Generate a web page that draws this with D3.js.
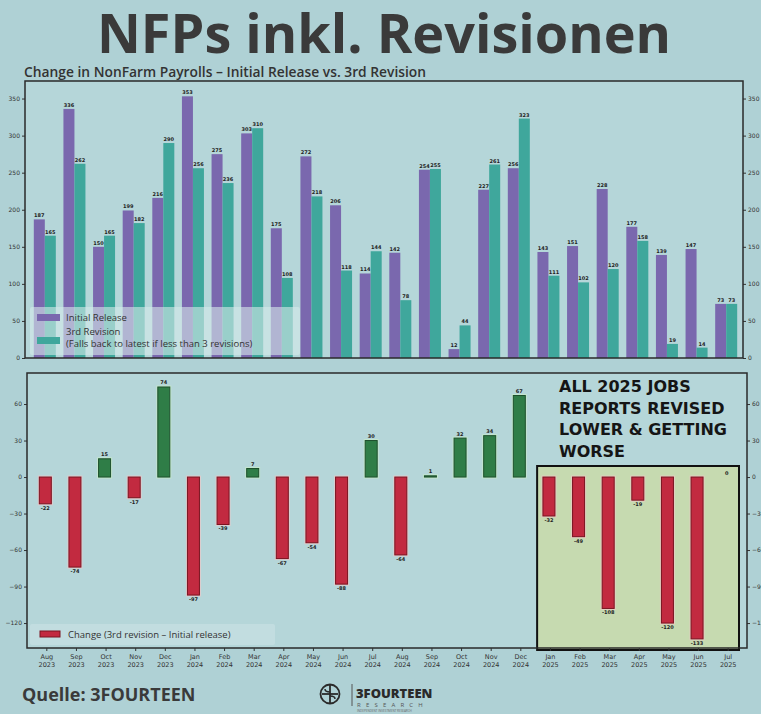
<!DOCTYPE html>
<html>
<head>
<meta charset="utf-8">
<script src="https://cdn.jsdelivr.net/npm/d3@7/dist/d3.min.js"></script>
<style>
html,body{margin:0;padding:0;background:#afd1d5;}
svg{display:block;}
</style>
</head>
<body>
<svg id="chart" width="761" height="714"></svg>
<script>
const months = ["Aug 2023","Sep 2023","Oct 2023","Nov 2023","Dec 2023","Jan 2024","Feb 2024","Mar 2024","Apr 2024","May 2024","Jun 2024","Jul 2024","Aug 2024","Sep 2024","Oct 2024","Nov 2024","Dec 2024","Jan 2025","Feb 2025","Mar 2025","Apr 2025","May 2025","Jun 2025","Jul 2025"];
const initialRelease = [187,336,150,199,216,353,275,303,175,272,206,114,142,254,12,227,256,143,151,228,177,139,147,73];
const thirdRevision  = [165,262,165,182,290,256,236,310,108,218,118,144,78,255,44,261,323,111,102,120,158,19,14,73];
const changeValues   = [-22,-74,15,-17,74,-97,-39,7,-67,-54,-88,30,-64,1,32,34,67,-32,-49,-108,-19,-120,-133,0];
const topTicks = [0,50,100,150,200,250,300,350];
const bottomTicks = [-120,-90,-60,-30,0,30,60];
const annotationLines = ["ALL 2025 JOBS","REPORTS REVISED","LOWER & GETTING","WORSE"];

const svg = d3.select("#chart");
const C = {bg:"#afd1d5", plot:"#b5d6d9", purple:"#7a68ae", teal:"#3fa79c", red:"#c22a40", redEdge:"#7a1420", green:"#2f7d47", greenEdge:"#1d4f2c", text:"#2b2b2b", highlight:"#c6dab0"};

svg.append("rect").attr("width",761).attr("height",714).attr("fill",C.bg);

// Title
svg.append("text").attr("x",384).attr("y",53).attr("text-anchor","middle")
  .attr("font-family","Open Sans, sans-serif").attr("font-weight",700).attr("font-size",54)
  .attr("fill","#3a3a3a").text("NFPs inkl. Revisionen");

svg.append("text").attr("x",24).attr("y",77)
  .attr("font-family","Open Sans, sans-serif").attr("font-weight",600).attr("font-size",13.8)
  .attr("fill","#333").text("Change in NonFarm Payrolls \u2013 Initial Release vs. 3rd Revision");

const x = d3.scaleBand().domain(months).range([30,741]).paddingInner(0);

// ---------- TOP PANEL ----------
const topL = 25, topR = 743, topT = 81, topB = 358;
const yTop = d3.scaleLinear().domain([0,375]).range([topB, topB-375*0.7413]);
svg.append("rect").attr("x",topL).attr("y",topT).attr("width",topR-topL).attr("height",topB-topT).attr("fill",C.plot);

const bw = 11;
const gTop = svg.append("g");
gTop.selectAll("rect.ini").data(months).join("rect").attr("class","ini")
  .attr("x",(d)=>x(d)+x.bandwidth()/2-bw).attr("width",bw)
  .attr("y",(d,i)=>yTop(initialRelease[i])).attr("height",(d,i)=>yTop(0)-yTop(initialRelease[i]))
  .attr("fill",C.purple);
gTop.selectAll("rect.rev").data(months).join("rect").attr("class","rev")
  .attr("x",(d)=>x(d)+x.bandwidth()/2).attr("width",bw)
  .attr("y",(d,i)=>yTop(thirdRevision[i])).attr("height",(d,i)=>yTop(0)-yTop(thirdRevision[i]))
  .attr("fill",C.teal);
gTop.selectAll("text.ini").data(months).join("text").attr("class","ini")
  .attr("x",(d)=>x(d)+x.bandwidth()/2-bw/2).attr("y",(d,i)=>yTop(initialRelease[i])-2)
  .attr("text-anchor","middle").attr("font-family","DejaVu Sans, sans-serif").attr("font-size",5).attr("font-weight",700)
  .attr("fill","#222").text((d,i)=>initialRelease[i]);
gTop.selectAll("text.rev").data(months).join("text").attr("class","rev")
  .attr("x",(d)=>x(d)+x.bandwidth()/2+bw/2).attr("y",(d,i)=>yTop(thirdRevision[i])-2)
  .attr("text-anchor","middle").attr("font-family","DejaVu Sans, sans-serif").attr("font-size",5).attr("font-weight",700)
  .attr("fill","#222").text((d,i)=>thirdRevision[i]);

// legend top
const lg = svg.append("g");
lg.append("rect").attr("x",30).attr("y",307).attr("width",270).attr("height",48).attr("fill","#d6e9ea").attr("opacity",0.6).attr("rx",2);
lg.append("rect").attr("x",37).attr("y",314).attr("width",23).attr("height",7).attr("fill",C.purple);
lg.append("text").attr("x",66).attr("y",321).attr("font-family","Open Sans, sans-serif").attr("font-size",9.5).attr("fill","#333").text("Initial Release");
lg.append("rect").attr("x",37).attr("y",337).attr("width",23).attr("height",7).attr("fill",C.teal);
lg.append("text").attr("x",66).attr("y",335).attr("font-family","Open Sans, sans-serif").attr("font-size",9.5).attr("fill","#333").text("3rd Revision");
lg.append("text").attr("x",66).attr("y",347).attr("font-family","Open Sans, sans-serif").attr("font-size",9.5).attr("fill","#333").text("(Falls back to latest if less than 3 revisions)");

// axes top
const axTopL = svg.append("g").attr("transform",`translate(${topL},0)`).call(d3.axisLeft(yTop).tickValues(topTicks).tickSize(3).tickPadding(2));
const axTopR = svg.append("g").attr("transform",`translate(${topR},0)`).call(d3.axisRight(yTop).tickValues(topTicks).tickSize(3).tickPadding(2));
[axTopL,axTopR].forEach(a=>{a.select(".domain").remove();a.selectAll("text").attr("font-size",6).attr("font-family","DejaVu Sans, sans-serif").attr("fill","#333");a.selectAll("line").attr("stroke","#333");});
svg.append("rect").attr("x",topL).attr("y",topT).attr("width",topR-topL).attr("height",topB-topT).attr("fill","none").attr("stroke","#2a2a2a").attr("stroke-width",1.5);

// ---------- BOTTOM PANEL ----------
const botL = 27, botR = 747, botT = 373, botB = 648;
const yBot = d3.scaleLinear().domain([-140.5,85.5]).range([botB,botT]);
svg.append("rect").attr("x",botL).attr("y",botT).attr("width",botR-botL).attr("height",botB-botT).attr("fill",C.plot);

// highlight box for 2025
const hx0 = x("Jan 2025")+3.5, hx1 = x("Jul 2025")+x.bandwidth()-2;
svg.append("rect").attr("x",hx0).attr("y",466).attr("width",hx1-hx0).attr("height",650-466)
  .attr("fill",C.highlight).attr("stroke","#111").attr("stroke-width",2);

const cbw = 12;
const gBot = svg.append("g");
gBot.selectAll("rect.glow").data(months).join("rect").attr("class","glow")
  .attr("x",(d)=>x(d)+x.bandwidth()/2-cbw/2+0.5-1.5).attr("width",cbw+3)
  .attr("y",(d,i)=>yBot(Math.max(0,changeValues[i]))-1.5).attr("height",(d,i)=>Math.abs(yBot(changeValues[i])-yBot(0))+3)
  .attr("fill",(d,i)=>changeValues[i]<0?"#f0c9c9":"#c9ecc9").attr("opacity",(d,i)=>changeValues[i]===0?0:0.7);
gBot.selectAll("rect.chg").data(months).join("rect").attr("class","chg")
  .attr("x",(d)=>x(d)+x.bandwidth()/2-cbw/2+0.5).attr("width",cbw)
  .attr("y",(d,i)=>yBot(Math.max(0,changeValues[i]))).attr("height",(d,i)=>Math.abs(yBot(changeValues[i])-yBot(0)))
  .attr("fill",(d,i)=>changeValues[i]<0?C.red:C.green)
  .attr("stroke",(d,i)=>changeValues[i]<0?C.redEdge:C.greenEdge).attr("stroke-width",1);
gBot.selectAll("text.chg").data(months).join("text").attr("class","chg")
  .attr("x",(d)=>x(d)+x.bandwidth()/2+0.5)
  .attr("y",(d,i)=>changeValues[i]<0? yBot(changeValues[i])+6 : yBot(changeValues[i])-2.5)
  .attr("text-anchor","middle").attr("font-family","DejaVu Sans, sans-serif").attr("font-size",5).attr("font-weight",700)
  .attr("fill","#222").text((d,i)=>changeValues[i]);

// annotation
const ann = svg.append("g");
annotationLines.forEach((t,i)=>{
  ann.append("text").attr("x",559).attr("y",392+i*21.7)
    .attr("font-family","DejaVu Sans, sans-serif").attr("font-weight",700).attr("font-size",16)
    .attr("fill","#151515").text(t);
});

// legend bottom
const lb = svg.append("g");
lb.append("rect").attr("x",30).attr("y",624).attr("width",245).attr("height",21).attr("fill","#d6e9ea").attr("opacity",0.4).attr("rx",2);
lb.append("rect").attr("x",40).attr("y",631).attr("width",20).attr("height",6).attr("fill",C.red).attr("stroke",C.redEdge).attr("stroke-width",1);
lb.append("text").attr("x",68).attr("y",638).attr("font-family","Open Sans, sans-serif").attr("font-size",9.5).attr("fill","#333").text("Change (3rd revision \u2013 Initial release)");

const axBotL = svg.append("g").attr("transform",`translate(${botL},0)`).call(d3.axisLeft(yBot).tickValues(bottomTicks).tickSize(3).tickPadding(2).tickFormat(d=>d<0?"\u2212"+Math.abs(d):d));
const axBotR = svg.append("g").attr("transform",`translate(${botR},0)`).call(d3.axisRight(yBot).tickValues(bottomTicks).tickSize(3).tickPadding(2).tickFormat(d=>d<0?"\u2212"+Math.abs(d):d));
[axBotL,axBotR].forEach(a=>{a.select(".domain").remove();a.selectAll("text").attr("font-size",6).attr("font-family","DejaVu Sans, sans-serif").attr("fill","#333");a.selectAll("line").attr("stroke","#333");});
svg.append("rect").attr("x",botL).attr("y",botT).attr("width",botR-botL).attr("height",botB-botT).attr("fill","none").attr("stroke","#2a2a2a").attr("stroke-width",1.5);

// x axis
const axX = svg.append("g").attr("transform",`translate(2,${botB})`).call(d3.axisBottom(x).tickSize(3).tickPadding(2).tickFormat(()=>""));
axX.select(".domain").remove();
axX.selectAll("line").attr("stroke","#333");
axX.selectAll(".tick").each(function(d){
  const parts = d.split(" ");
  const t = d3.select(this).append("text").attr("fill","#333").attr("font-family","DejaVu Sans, sans-serif").attr("font-size",6.5).attr("text-anchor","middle");
  t.append("tspan").attr("x",0).attr("y",11).text(parts[0]);
  t.append("tspan").attr("x",0).attr("y",19).text(parts[1]);
});

// source
svg.append("text").attr("x",22).attr("y",701).attr("font-family","Open Sans, sans-serif").attr("font-weight",700).attr("font-size",18).attr("fill","#3a3a3a").text("Quelle: 3FOURTEEN");

// logo
const logo = svg.append("g").attr("transform","translate(330,694)");
logo.append("circle").attr("r",9.5).attr("fill","none").attr("stroke","#2a2a2a").attr("stroke-width",1.8);
logo.append("line").attr("x1",0).attr("y1",-9).attr("x2",0).attr("y2",9).attr("stroke","#2a2a2a").attr("stroke-width",1.8);
logo.append("line").attr("x1",-8).attr("y1",0).attr("x2",8).attr("y2",0).attr("stroke","#2a2a2a").attr("stroke-width",1.8);
logo.append("path").attr("d","M-5,-5 Q-5,-2 0,-2 M5,5 Q5,2 0,2").attr("fill","none").attr("stroke","#2a2a2a").attr("stroke-width",1.5);
svg.append("line").attr("x1",352).attr("y1",684).attr("x2",352).attr("y2",706).attr("stroke","#555").attr("stroke-width",1);
svg.append("text").attr("x",356).attr("y",698).attr("font-family","Open Sans, sans-serif").attr("font-weight",800).attr("font-size",13).attr("fill","#2a2a2a").text("3FOURTEEN");
svg.append("text").attr("x",357).attr("y",706.5).attr("font-family","Open Sans, sans-serif").attr("font-size",6).attr("letter-spacing",5.2).attr("fill","#555").text("RESEARCH");
svg.append("text").attr("x",357).attr("y",712).attr("font-family","Open Sans, sans-serif").attr("font-size",3).attr("fill","#666").text("INDEPENDENT INVESTMENT RESEARCH");
</script>
</body>
</html>
